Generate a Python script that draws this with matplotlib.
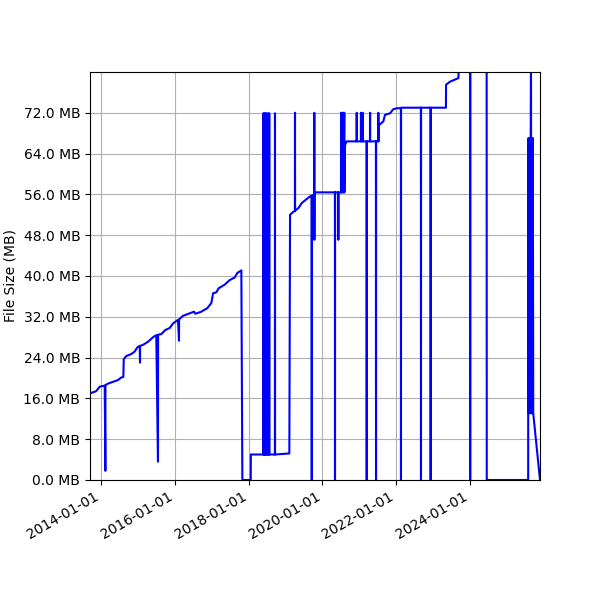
import matplotlib
matplotlib.use("Agg")
import matplotlib.pyplot as plt
import matplotlib.dates as mdates
from matplotlib.ticker import FuncFormatter
import pandas as pd

# Snapshot dates and file sizes (MB)
dates = [
    "2013-09-14", "2013-11-13", "2013-12-19", "2014-02-07", "2014-02-13", "2014-02-14",
    "2014-03-11", "2014-06-18", "2014-07-21", "2014-08-10", "2014-08-14", "2014-09-08",
    "2014-10-28", "2014-12-01", "2014-12-26", "2015-01-19", "2015-01-22", "2015-01-23",
    "2015-02-21", "2015-04-11", "2015-05-31", "2015-07-02", "2015-07-19", "2015-07-20",
    "2015-08-21", "2015-09-29", "2015-11-12", "2015-12-15", "2016-02-02", "2016-02-12",
    "2016-02-13", "2016-03-23", "2016-07-10", "2016-07-22", "2016-09-20", "2016-11-18",
    "2016-12-28", "2017-01-14", "2017-02-15", "2017-03-11", "2017-05-09", "2017-06-28",
    "2017-08-16", "2017-09-11", "2017-10-21", "2017-10-31", "2018-01-22", "2018-01-23",
    # 2018
    "2018-05-26", "2018-05-27", "2018-05-28",
    "2018-06-05", "2018-06-06", "2018-06-07",
    "2018-06-15", "2018-06-16", "2018-06-17",
    "2018-06-28", "2018-06-29", "2018-06-30",
    "2018-07-13", "2018-07-14", "2018-07-15",
    "2018-07-23", "2018-07-24", "2018-07-25",
    "2018-09-18", "2018-09-19", "2018-09-20",
    # 2019
    "2019-02-08", "2019-02-15", "2019-03-19",
    "2019-04-04", "2019-04-05", "2019-04-06",
    "2019-05-08", "2019-06-11", "2019-07-30", "2019-09-01",
    "2019-09-17", "2019-09-18", "2019-09-19",
    "2019-10-12", "2019-10-13", "2019-10-14", "2019-10-15",
    # 2020
    "2020-05-04", "2020-05-05", "2020-05-06",
    "2020-06-06", "2020-06-07", "2020-06-08",
    "2020-07-03", "2020-07-04", "2020-07-05", "2020-07-12", "2020-07-13",
    "2020-07-20", "2020-07-21", "2020-07-28", "2020-07-29", "2020-08-05", "2020-08-06",
    "2020-08-12", "2020-08-29",
    "2020-12-05", "2020-12-06", "2020-12-07",
    "2021-01-16", "2021-01-17", "2021-01-18",
    "2021-02-02", "2021-02-03", "2021-02-04",
    "2021-03-14", "2021-03-15", "2021-03-16",
    "2021-04-16", "2021-04-17", "2021-04-18",
    "2021-06-14", "2021-06-15", "2021-06-16",
    "2021-07-07", "2021-07-08", "2021-07-09",
    "2021-07-15", "2021-08-26", "2021-09-12", "2021-11-01", "2021-12-03", "2022-01-09",
    # 2022
    "2022-02-16", "2022-02-17", "2022-02-18",
    "2022-09-02", "2022-09-03", "2022-09-04",
    "2022-12-07", "2022-12-08", "2022-12-09",
    "2023-05-08", "2023-05-09", "2023-06-17", "2023-09-08", "2023-09-24",
    "2024-01-02", "2024-01-03", "2024-01-04", "2024-06-14", "2024-06-15", "2025-07-30",
    # 2025 burst
    "2025-07-31", "2025-08-03", "2025-08-06", "2025-08-09", "2025-08-12", "2025-08-15",
    "2025-08-18", "2025-08-21", "2025-08-24", "2025-08-27", "2025-08-28", "2025-08-30",
    "2025-09-02", "2025-09-05", "2025-09-08", "2025-09-11", "2025-09-14", "2025-09-18",
    "2025-11-24",
]
sizes_mb = [
    17.0, 17.4, 18.3, 18.5, 1.8, 18.6,
    18.9, 19.6, 20.1, 20.2, 23.7, 24.3,
    24.7, 25.2, 26.0, 26.3, 23.0, 26.3,
    26.5, 27.1, 28.0, 28.4, 3.6, 28.5,
    28.6, 29.4, 29.8, 30.7, 31.4, 27.3,
    31.5, 32.2, 33.0, 32.6, 33.0, 33.7,
    34.7, 36.6, 36.8, 37.6, 38.3, 39.2,
    39.7, 40.6, 41.1, 0.0, 0.0, 5.0,
    # 2018
    5.0, 71.9, 5.0,
    5.0, 71.9, 5.0,
    5.0, 71.9, 5.0,
    5.0, 71.9, 5.0,
    5.0, 71.9, 5.0,
    5.0, 71.9, 5.0,
    5.0, 71.9, 5.0,
    # 2019
    5.2, 52.0, 52.6,
    52.7, 72.0, 52.8,
    53.3, 54.3, 55.1, 55.6,
    55.7, 0.0, 55.8,
    55.9, 72.0, 47.1, 56.4,
    # 2020
    56.4, 0.0, 56.4,
    56.4, 47.1, 56.4,
    56.4, 72.0, 56.4, 72.0, 56.4,
    72.0, 56.4, 72.0, 56.4, 72.0, 56.4,
    65.7, 66.4,
    66.4, 72.0, 66.4,
    66.4, 72.0, 66.4,
    66.4, 72.0, 66.4,
    66.4, 0.0, 66.4,
    66.4, 72.0, 66.4,
    66.4, 0.0, 66.4,
    66.4, 72.0, 66.4,
    69.6, 70.3, 71.6, 71.9, 72.7, 72.9,
    # 2022
    72.9, 0.0, 73.0,
    73.0, 0.0, 73.0,
    73.0, 0.0, 73.0,
    73.0, 77.5, 78.1, 78.8, 85.0,
    85.0, 0.0, 85.0, 85.0, 0.0, 0.0,
    # 2025 burst
    67.0, 13.1, 67.0, 13.1, 67.0, 13.1,
    67.0, 13.1, 67.0, 85.0, 67.0, 13.1,
    67.0, 13.1, 67.0, 13.1, 67.0, 13.1,
    0.0,
]

y_ticks = [0, 8, 16, 24, 32, 40, 48, 56, 64, 72]

df = pd.DataFrame({"date": pd.to_datetime(dates), "size": sizes_mb})

fig, ax = plt.subplots(figsize=(6, 6), dpi=100)
ax.plot(df["date"], df["size"], color="blue", linewidth=1.5)

ax.set_xlim(pd.Timestamp("2013-09-14"), pd.Timestamp("2025-11-24"))
ax.set_ylim(0, 80)
ax.set_yticks(y_ticks)
ax.yaxis.set_major_formatter(FuncFormatter(lambda v, pos: f"{v:.1f} MB"))
ax.xaxis.set_major_locator(mdates.YearLocator(2))
ax.xaxis.set_major_formatter(mdates.DateFormatter("%Y-%m-%d"))
ax.set_ylabel("File Size (MB)")
ax.grid(True)

fig.autofmt_xdate()
fig.subplots_adjust(left=0.15, right=0.9, top=0.88, bottom=0.2)
fig.savefig("out.png", dpi=100)
